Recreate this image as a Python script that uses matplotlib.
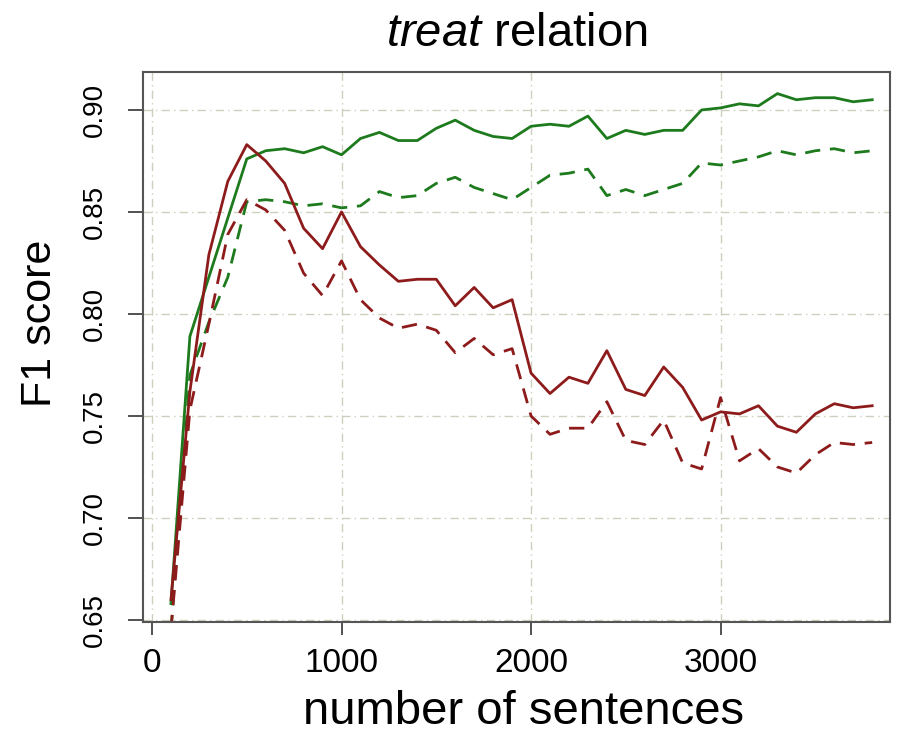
import numpy as np
import matplotlib
matplotlib.use("Agg")
import matplotlib.pyplot as plt

plt.rcParams['font.family'] = ['Liberation Sans', 'DejaVu Sans']
plt.rcParams['mathtext.fontset'] = 'custom'
plt.rcParams['mathtext.rm'] = 'Liberation Sans'
plt.rcParams['mathtext.it'] = 'Liberation Sans:italic'

# number of sentences
n_sent = list(range(100, 3900, 100))

green_solid = [0.658, 0.789, 0.818, 0.847, 0.876, 0.880, 0.881, 0.879, 0.882, 0.878,
               0.886, 0.889, 0.885, 0.885, 0.891, 0.895, 0.890, 0.887, 0.886, 0.892,
               0.893, 0.892, 0.897, 0.886, 0.890, 0.888, 0.890, 0.890, 0.900, 0.901,
               0.903, 0.902, 0.908, 0.905, 0.906, 0.906, 0.904, 0.905]
green_dashed = [0.645, 0.770, 0.796, 0.818, 0.855, 0.856, 0.855, 0.853, 0.854, 0.852,
                0.853, 0.860, 0.857, 0.858, 0.864, 0.867, 0.862, 0.859, 0.856, 0.862,
                0.868, 0.869, 0.871, 0.858, 0.861, 0.858, 0.861, 0.864, 0.874, 0.873,
                0.875, 0.877, 0.880, 0.878, 0.880, 0.881, 0.879, 0.880]
red_solid = [0.660, 0.762, 0.829, 0.865, 0.883, 0.875, 0.864, 0.842, 0.832, 0.850,
             0.833, 0.824, 0.816, 0.817, 0.817, 0.804, 0.813, 0.803, 0.807, 0.771,
             0.761, 0.769, 0.766, 0.782, 0.763, 0.760, 0.774, 0.764, 0.748, 0.752,
             0.751, 0.755, 0.745, 0.742, 0.751, 0.756, 0.754, 0.755]
red_dashed = [0.645, 0.753, 0.795, 0.839, 0.856, 0.851, 0.841, 0.820, 0.809, 0.826,
              0.807, 0.798, 0.793, 0.795, 0.792, 0.781, 0.788, 0.780, 0.783, 0.750,
              0.741, 0.744, 0.744, 0.757, 0.738, 0.736, 0.748, 0.727, 0.724, 0.759,
              0.728, 0.734, 0.725, 0.722, 0.731, 0.737, 0.736, 0.737]

xticks = [0, 1000, 2000, 3000]
yticks = [0.65, 0.70, 0.75, 0.80, 0.85, 0.90]

green = '#1d7a1d'
red = '#8e1b1b'
dashed = (0, (5.5, 3.5))

fig = plt.figure(figsize=(9.07, 7.33), dpi=100)
ax = fig.add_axes([143/907, 1 - 622/733, 747/907, 550/733])

ax.plot(n_sent, green_solid, color=green, lw=2.0)
ax.plot(n_sent, green_dashed, color=green, lw=2.0, linestyle=dashed)
ax.plot(n_sent, red_solid, color=red, lw=2.0)
ax.plot(n_sent, red_dashed, color=red, lw=2.0, linestyle=dashed)

ax.set_xlim(-47.5, 3894)
ax.set_ylim(0.649, 0.9186)

ax.set_xticks(xticks)
ax.set_yticks(yticks)
ax.set_yticklabels(['%.2f' % v for v in yticks], rotation=90, va='center')
ax.tick_params(axis='x', labelsize=24, length=9, width=1.2, pad=10, color='#333333')
ax.tick_params(axis='y', labelsize=20, length=11, width=1.2, pad=14, color='#333333')

ax.grid(True, color='#cfcfbf', lw=1.0, linestyle=(0, (6, 3, 1, 3)))
for s in ax.spines.values():
    s.set_color('#555555')
    s.set_linewidth(1.5)

ax.set_xlabel('number of sentences', fontsize=34, labelpad=8)
ax.xaxis.label.set_x(0.509)
ax.set_ylabel('F1 score', fontsize=31)
ax.yaxis.set_label_coords(-0.111, 0.5436)
ax.set_title(r'$\mathit{treat}$ relation', fontsize=34, pad=19)

fig.savefig('out.png', dpi=100)
